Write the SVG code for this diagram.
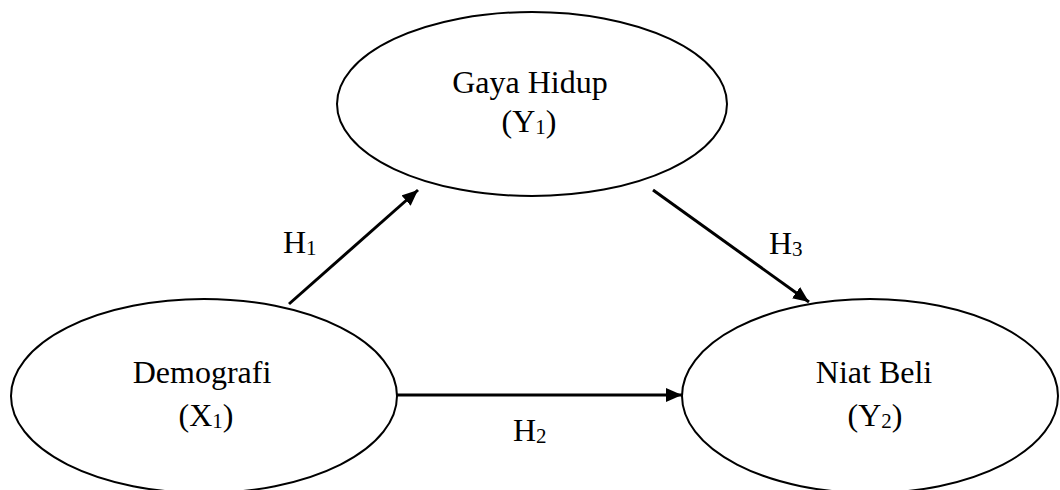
<svg xmlns="http://www.w3.org/2000/svg" width="1060" height="490" viewBox="0 0 1060 490">
<style>
.node ellipse{fill:#fff;stroke:#000;stroke-width:2}
text{font-family:"Liberation Serif","Times New Roman",serif;font-size:32px;fill:#000;text-anchor:middle}
text.lbl{text-anchor:start}
.sub{font-size:21px}
.edge{stroke:#000;stroke-width:3;fill:none;marker-end:url(#arr)}
</style>
<defs>
<marker id="arr" markerUnits="userSpaceOnUse" markerWidth="17" markerHeight="14" refX="16" refY="7" orient="auto">
<path d="M0,0 L16,7 L0,14 z" fill="#000"/>
</marker>
</defs>
<g id="node-gaya" class="node">
<ellipse cx="532" cy="104" rx="195" ry="92"/>
<text x="530" y="93">Gaya Hidup</text>
<text x="529" y="132">(Y<tspan class="sub" dy="2">1</tspan><tspan dy="-2">)</tspan></text>
</g>
<g id="node-demografi" class="node">
<ellipse cx="204" cy="396" rx="193" ry="97"/>
<text x="202" y="383">Demografi</text>
<text x="206" y="426">(X<tspan class="sub" dy="2">1</tspan><tspan dy="-2">)</tspan></text>
</g>
<g id="node-niat" class="node">
<ellipse cx="870" cy="396" rx="188" ry="97"/>
<text x="874" y="383">Niat Beli</text>
<text x="875" y="426">(Y<tspan class="sub" dy="2">2</tspan><tspan dy="-2">)</tspan></text>
</g>
<g id="connectors">
<line class="edge" x1="289" y1="304" x2="418" y2="190"/>
<line class="edge" x1="397" y1="395" x2="682" y2="395"/>
<line class="edge" x1="653" y1="190" x2="809" y2="302"/>
<text class="lbl" x="283" y="253">H<tspan class="sub" dy="2">1</tspan></text>
<text class="lbl" x="513" y="441">H<tspan class="sub" dy="2">2</tspan></text>
<text class="lbl" x="769" y="254">H<tspan class="sub" dy="2">3</tspan></text>
</g>
</svg>
